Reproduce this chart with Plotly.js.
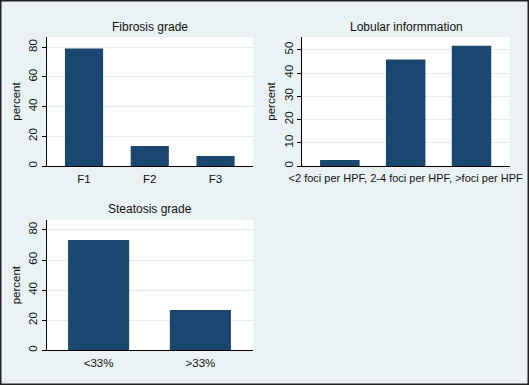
<!DOCTYPE html>
<html>
<head>
<meta charset="utf-8">
<script src="https://cdn.plot.ly/plotly-3.0.1.min.js"></script>
<style>
html,body{margin:0;padding:0;background:#eaf2f3;}
#chart{width:529px;height:385px;}
</style>
</head>
<body>
<div id="chart"></div>
<script>
// Data
const fibrosisCats = ["F1", "F2", "F3"];
const fibrosisVals = [79.2, 13.5, 6.7];
const lobularCats = ["<2 foci per HPF", "2-4 foci per HPF", ">foci per HPF"];
const lobularVals = [2.6, 45.8, 51.7];
const steatosisCats = ["<33%", ">33%"];
const steatosisVals = [73.3, 26.8];
const panelTitles = ["Fibrosis grade", "Lobular informmation", "Steatosis grade"];

const W = 529, H = 385;
const barColor = "#1a476f";
const font = {family: "Liberation Sans, Arial, sans-serif", size: 11.5, color: "#111"};
const titleFont = {family: "Liberation Sans, Arial, sans-serif", size: 12, color: "#111"};
const lobFont = {family: "Liberation Sans, Arial, sans-serif", size: 11, color: "#111"};

function idx(a){ return a.map((_, i) => i); }

const traces = [
  {type: "bar", x: idx(fibrosisCats), y: fibrosisVals, xaxis: "x", yaxis: "y",
   marker: {color: barColor}, width: 0.58, hoverinfo: "skip"},
  {type: "bar", x: idx(lobularCats), y: lobularVals, xaxis: "x2", yaxis: "y2",
   marker: {color: barColor}, width: 0.6, hoverinfo: "skip"},
  {type: "bar", x: idx(steatosisCats), y: steatosisVals, xaxis: "x3", yaxis: "y3",
   marker: {color: barColor}, width: 0.6, hoverinfo: "skip"}
];

function px(a, b){ return [a / W, b / W]; }
function py(top, bottom){ return [1 - bottom / H, 1 - top / H]; }

function xax(dom, anchor, range, vals, text, f){
  return {domain: dom, anchor: anchor, range: range, tickvals: vals, ticktext: text,
    showline: true, linecolor: "#000", linewidth: 1, ticks: "", showgrid: false,
    ticklabelstandoff: 2,
    zeroline: false, tickfont: f || font, fixedrange: true};
}
function yax(dom, anchor, range, dtick){
  return {domain: dom, anchor: anchor, range: range, dtick: dtick, tick0: 0,
    showline: true, linecolor: "#000", linewidth: 1, ticks: "outside", ticklen: 4,
    tickcolor: "#000", tickangle: -90, showgrid: true, gridcolor: "#e3eef0",
    gridwidth: 1, zeroline: false, tickfont: font, fixedrange: true,
    title: {text: "percent", font: font, standoff: 4}};
}

const d1x = px(47, 253), d2x = px(302.3, 509.7), d3x = px(46.7, 253.3);
const dTop = py(37, 166), dBot = py(220, 350.3);

const layout = {
  width: W, height: H,
  margin: {l: 0, r: 0, t: 0, b: 0},
  paper_bgcolor: "#eaf2f3",
  plot_bgcolor: "#ffffff",
  showlegend: false,
  font: font,
  xaxis: xax(d1x, "y", [-0.563, 2.57], idx(fibrosisCats), fibrosisCats),
  yaxis: yax(dTop, "x", [0, 86.9], 20),
  xaxis2: xax(d2x, "y2", [-0.57, 2.58], [1], [lobularCats.join(", ")], lobFont),
  yaxis2: yax(dTop, "x2", [0, 55.5], 10),
  xaxis3: xax(d3x, "y3", [-0.51, 1.52], idx(steatosisCats), steatosisCats),
  yaxis3: yax(dBot, "x3", [0, 86.6], 20),
  annotations: [
    {text: panelTitles[0], xref: "paper", yref: "paper", x: (d1x[0] + d1x[1]) / 2, y: 1 - 27 / H,
     showarrow: false, font: titleFont, xanchor: "center", yanchor: "middle"},
    {text: panelTitles[1], xref: "paper", yref: "paper", x: (d2x[0] + d2x[1]) / 2, y: 1 - 27 / H,
     showarrow: false, font: titleFont, xanchor: "center", yanchor: "middle"},
    {text: panelTitles[2], xref: "paper", yref: "paper", x: (d3x[0] + d3x[1]) / 2, y: 1 - 209 / H,
     showarrow: false, font: titleFont, xanchor: "center", yanchor: "middle"}
  ],
  shapes: [
    {type: "rect", xref: "paper", yref: "paper", x0: 0, x1: 1, y0: 0, y1: 1,
     line: {color: "#222", width: 3}, fillcolor: "rgba(0,0,0,0)"}
  ]
};

Plotly.newPlot("chart", traces, layout, {displayModeBar: false, staticPlot: true});
</script>
</body>
</html>
